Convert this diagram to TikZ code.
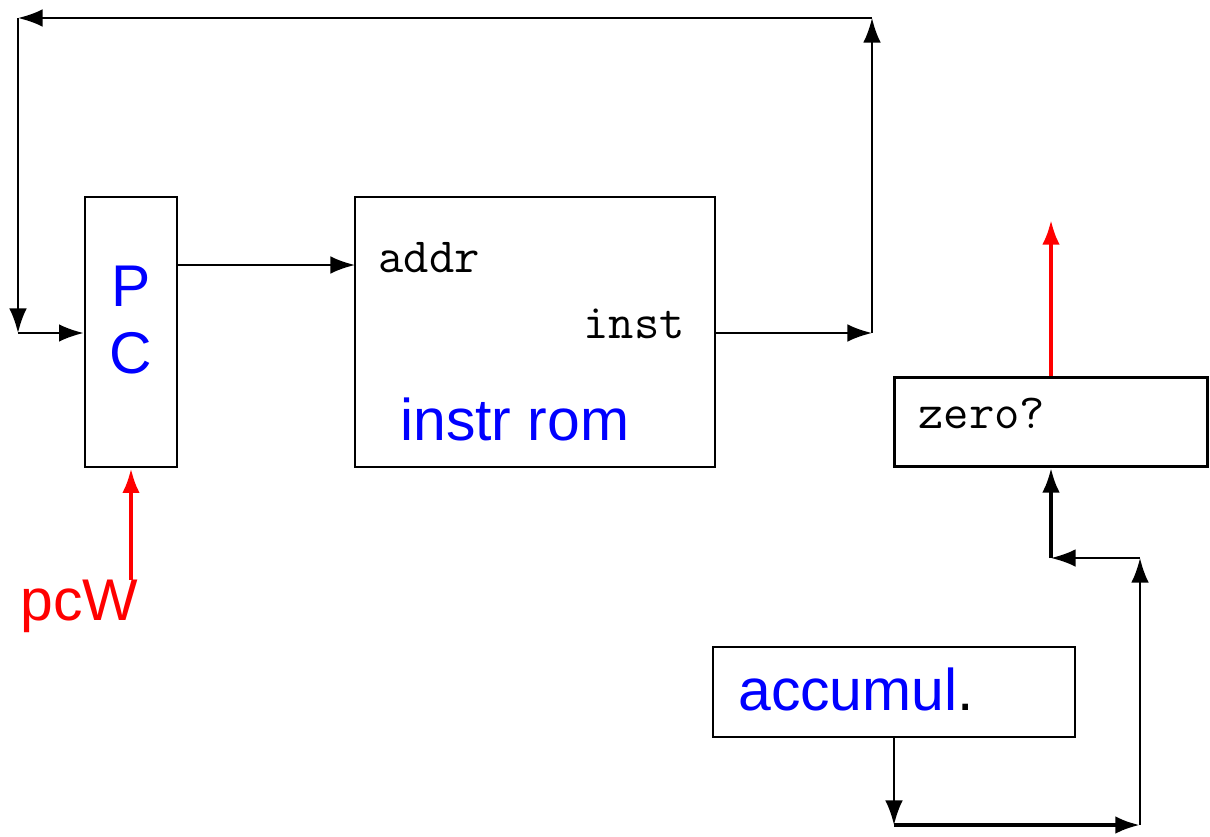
\documentclass[tikz,border=0pt]{standalone}
\usepackage{fontspec}
\setmainfont{Liberation Sans}
\usetikzlibrary{arrows.meta}

\begin{document}
\begin{tikzpicture}[
     x=0.02cm, y=-0.02cm,
     blk/.style={draw, line width=1.6pt, inner sep=0pt},
     wire/.style={line width=1.2pt, -{Latex[length=14pt,width=10pt]}},
     bus/.style={wire, line width=2.2pt},
     ctl/.style={red, line width=2.2pt, -{Latex[length=14pt,width=10pt]}},
     big/.style={blue, inner sep=0pt, font=\fontsize{33.5}{38}\selectfont},
     port/.style={inner sep=0pt, anchor=base west, font=\ttfamily\fontsize{28}{32}\selectfont}
   ]
   \useasboundingbox (0,0) rectangle (1210,836);
   % Blocks.
   \node[blk, minimum width=1.84cm, minimum height=5.4cm] (pc) at (131,332) {};
   \node[blk, minimum width=7.2cm, minimum height=5.4cm] (rom) at (535,332) {};
   \node[blk, minimum width=6.26cm, minimum height=1.78cm] (zero) at (1051,422) {};
   \node[blk, minimum width=7.24cm, minimum height=1.8cm] (acc) at (894,692) {};
   % Labels.
   \node[big, anchor=base] (pclbl) at (131,306) {P};
   \node[big, anchor=base] (pclbl2) at (131,373) {C};
   \node[port] (addr) at (378,272) {addr};
   \node[port] (inst) at (583,338) {inst};
   \node[big, anchor=base west] (romlbl) at (400,440) {instr rom};
   \node[port] (zerolbl) at (918,428) {zero?};
   \node[big, anchor=base west] (acclbl) at (738,710) {accumul\textcolor{black}{.}};
   \node[big, red, anchor=base west] (pcw) at (20,620) {pcW};
   % Corners of the wires.
   \coordinate (addrin) at (355,265);
   \coordinate (jr) at (872,333);
   \coordinate (ne) at (872,18);
   \coordinate (nw) at (18,18);
   \coordinate (jl) at (18,333);
   \coordinate (zout) at (1051,220);
   \coordinate (pcwtop) at (131,580);
   \coordinate (z1) at (1051,558);
   \coordinate (z2) at (1140,558);
   \coordinate (z3) at (1140,825);
   \coordinate (z4) at (894,825);
   % PC -> rom -> back to PC.
   \draw[wire] (pc.east |- addrin) -- (addrin);
   \draw[wire] (rom.east |- jr) -- (jr);
   \draw[wire] (jr) -- (ne);
   \draw[wire] (ne) -- (nw);
   \draw[wire] (nw) -- (jl);
   \draw[wire] (jl) -- (pc.west |- jl);
   % Accumulator -> zero test.
   \draw[wire] (acc.south) -- (z4);
   \draw[bus] (z4) -- (z3);
   \draw[wire] (z3) -- (z2);
   \draw[wire] (z2) -- (z1);
   \draw[bus] (z1) -- (zero.south);
   % Control signals.
   \draw[ctl] (zero.north) -- (zout);
   \draw[ctl] (pcwtop) -- (pc.south);
 \end{tikzpicture}
\end{document}
